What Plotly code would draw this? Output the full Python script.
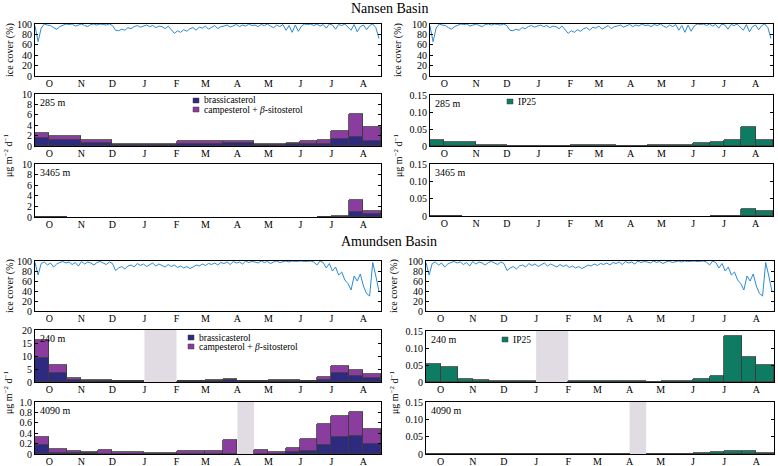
import plotly.graph_objects as go
import pandas as pd

W, H = 778, 466
T0 = pd.Timestamp('2017-10-01')
FONT = 'Liberation Serif'

# month labels (centred mid-month)
month_ticks = ['2017-10-15', '2017-11-15', '2017-12-15', '2018-01-15', '2018-02-15', '2018-03-15',
               '2018-04-15', '2018-05-15', '2018-06-15', '2018-07-15', '2018-08-15']
month_labels = ['O', 'N', 'D', 'J', 'F', 'M', 'A', 'M', 'J', 'J', 'A']

# sea ice cover (%), every 3 days from 1 Oct 2017
ice_dates = pd.date_range('2017-10-01', periods=112, freq='3D')
ice_nansen = [96, 66, 92, 100, 98, 97, 93, 90, 95, 98, 100,
              99, 100, 96, 98, 100, 97, 95, 99, 100, 98,
              100, 99, 98, 100, 97, 88, 87, 90, 88, 93,
              91, 95, 97, 94, 96, 98, 95, 97, 93, 96,
              95, 91, 96, 90, 82, 87, 84, 89, 86, 91,
              93, 88, 94, 92, 96, 90, 94, 97, 91, 95,
              96, 98, 94, 97, 99, 95, 98, 96, 100, 97,
              98, 95, 99, 97, 100, 96, 93, 98, 95, 99,
              88, 97, 84, 98, 86, 96, 100, 99, 100, 97,
              100, 96, 99, 92, 100, 98, 90, 99, 97, 100,
              94, 88, 99, 85, 95, 98, 89, 97, 100, 93, 72]
ice_amundsen = [97, 72, 95, 98, 92, 96, 88, 94, 97, 99, 96,
                98, 93, 97, 90, 99, 94, 98, 96, 92, 97,
                99, 96, 93, 98, 95, 81, 86, 89, 84, 90,
                92, 88, 95, 91, 94, 89, 93, 96, 90, 94,
                91, 88, 93, 89, 92, 87, 90, 86, 89, 85,
                88, 92, 90, 94, 91, 95, 93, 96, 92, 97,
                95, 98, 93, 99, 96, 98, 94, 100, 97, 99,
                98, 96, 100, 97, 99, 95, 98, 100, 97, 99,
                100, 98, 100, 99, 100, 100, 99, 100, 100, 98,
                92, 100, 97, 86, 95, 80, 88, 72, 78, 62,
                55, 42, 70, 60, 74, 50, 35, 30, 97, 70, 40]

# Nansen Basin, 285 m trap
n285_start = ['2017-10-01', '2017-10-15', '2017-11-15', '2017-12-15', '2018-02-15', '2018-04-01', '2018-05-01',
              '2018-06-01', '2018-06-15', '2018-07-01', '2018-07-15', '2018-08-01', '2018-08-15']
n285_end = ['2017-10-15', '2017-11-15', '2017-12-15', '2018-02-15', '2018-04-01', '2018-05-01', '2018-06-01',
            '2018-06-15', '2018-07-01', '2018-07-15', '2018-08-01', '2018-08-15', '2018-09-01']
n285_brassicasterol = [1.5, 1.2, 0.5, 0.2, 0.3, 0.6, 0.2, 0.3, 0.4, 0.4, 1.3, 1.7, 1.0]
n285_campesterol = [1.0, 0.7, 0.7, 0.2, 0.7, 0.4, 0.1, 0.3, 0.5, 0.7, 1.5, 4.5, 2.6]
n285_ip25 = [0.017, 0.011, 0.002, 0.0005, 0.003, 0.001, 0.003, 0.003, 0.008, 0.012, 0.017, 0.057, 0.018]

# Nansen Basin, 3465 m trap
n3465_start = ['2017-10-01', '2017-10-15', '2018-07-01', '2018-07-15', '2018-08-01', '2018-08-15']
n3465_end = ['2017-10-15', '2017-11-01', '2018-07-15', '2018-08-01', '2018-08-15', '2018-09-01']
n3465_brassicasterol = [0.05, 0.03, 0.04, 0.05, 1.0, 0.5]
n3465_campesterol = [0.03, 0.02, 0.04, 0.05, 2.3, 0.6]
n3465_ip25 = [0.001, 0.0005, 0.0002, 0.0003, 0.019, 0.013]

# Amundsen Basin, 240 m trap
a240_start = ['2017-10-01', '2017-10-15', '2017-11-01', '2017-11-15', '2017-12-01', '2017-12-15', '2018-02-15',
              '2018-03-15', '2018-04-01', '2018-04-15', '2018-05-01', '2018-05-15', '2018-06-01', '2018-06-15',
              '2018-07-01', '2018-07-15', '2018-08-01', '2018-08-15']
a240_end = ['2017-10-15', '2017-11-01', '2017-11-15', '2017-12-01', '2017-12-15', '2018-01-15', '2018-03-15',
            '2018-04-01', '2018-04-15', '2018-05-01', '2018-05-15', '2018-06-01', '2018-06-15', '2018-07-01',
            '2018-07-15', '2018-08-01', '2018-08-15', '2018-09-01']
a240_brassicasterol = [9.3, 3.5, 0.9, 0.5, 0.4, 0.3, 0.3, 0.5, 0.7, 0.3, 0.4, 0.4, 0.3, 0.2, 0.6, 3.6, 2.4, 1.5]
a240_campesterol = [6.8, 3.0, 0.8, 0.4, 0.4, 0.1, 0.1, 0.1, 0.3, 0.1, 0.1, 0.2, 0.5, 0.1, 1.3, 2.7, 2.4, 1.7]
a240_ip25 = [0.053, 0.043, 0.0097, 0.006, 0.003, 0.003, 0.003, 0.003, 0.003, 0.002, 0.001, 0.003, 0.003,
             0.009, 0.017, 0.136, 0.074, 0.050]
a240_gap = ['2018-01-15', '2018-02-15']

# Amundsen Basin, 4090 m trap
a4090_start = ['2017-10-01', '2017-10-15', '2017-11-01', '2017-11-15', '2017-12-01', '2017-12-15', '2018-01-15',
               '2018-02-15', '2018-03-15', '2018-04-01', '2018-05-01', '2018-05-15', '2018-06-01', '2018-06-15',
               '2018-07-01', '2018-07-15', '2018-08-01', '2018-08-15']
a4090_end = ['2017-10-15', '2017-11-01', '2017-11-15', '2017-12-01', '2017-12-15', '2018-01-15', '2018-02-15',
             '2018-03-15', '2018-04-01', '2018-04-15', '2018-05-15', '2018-06-01', '2018-06-15', '2018-07-01',
             '2018-07-15', '2018-08-01', '2018-08-15', '2018-09-01']
a4090_brassicasterol = [0.165, 0.02, 0.02, 0.01, 0.005, 0.005, 0.005, 0.005, 0.005, 0.005, 0.005, 0.005,
                        0.04, 0.065, 0.18, 0.335, 0.355, 0.19]
a4090_campesterol = [0.155, 0.075, 0.03, 0.03, 0.07, 0.025, 0.02, 0.045, 0.045, 0.265, 0.075, 0.025,
                     0.075, 0.22, 0.39, 0.395, 0.445, 0.30]
a4090_ip25 = [0.001, 0.0003, 0, 0, 0, 0, 0, 0, 0, 0, 0, 0, 0.0005, 0.002, 0.006, 0.008, 0.0085, 0.003]
a4090_gap = ['2018-04-15', '2018-05-01']

C_BRAS = '#2d2a80'
C_CAMP = '#8a3c9f'
C_IP25 = '#0e7c62'
C_ICE = '#2b8ad6'
C_GAP = '#e1dbe3'
C_EDGE = '#3c3c3c'


def day(d):
    return (pd.Timestamp(d) - T0).days


def xpos(start, end):
    s = [day(a) for a in start]
    e = [day(b) for b in end]
    return [(a + b) / 2 for a, b in zip(s, e)], [b - a for a, b in zip(s, e)]


fig = go.Figure()

# panel geometry in pixels: (x0, x1, y0, y1)
panels = [
    (35, 381, 24, 76), (35, 381, 94, 146), (35, 381, 164, 217),
    (430, 773, 24, 76), (430, 773, 95, 146), (430, 773, 164, 216),
    (35, 381, 261, 311), (35, 381, 330, 382), (35, 381, 402, 454),
    (426, 774, 261, 311), (426, 774, 331, 382), (426, 774, 402, 454),
]

tickfont = dict(family=FONT, size=10, color='black')
layout = {}
for i, (x0, x1, y0, y1) in enumerate(panels):
    n = '' if i == 0 else str(i + 1)
    layout['xaxis' + n] = dict(
        domain=[x0 / W, x1 / W], anchor='y' + n, range=[0, 335],
        tickvals=[day(t) for t in month_ticks], ticktext=month_labels,
        ticks='', ticklabelstandoff=-2, showline=True, mirror=True, linecolor='black', linewidth=1,
        showgrid=False, zeroline=False, tickfont=tickfont, fixedrange=True, automargin=False)
    layout['yaxis' + n] = dict(
        domain=[1 - y1 / H, 1 - y0 / H], anchor='x' + n,
        ticks='inside', ticklen=3, tickcolor='black',
        showline=True, mirror='ticks', linecolor='black', linewidth=1,
        showgrid=False, zeroline=False, tickfont=tickfont, fixedrange=True, automargin=False)


def ax(i):
    return ('x', 'y') if i == 0 else ('x' + str(i + 1), 'y' + str(i + 1))


def ice_panel(i, values):
    xa, ya = ax(i)
    fig.add_trace(go.Scatter(x=[(d - T0).days for d in ice_dates], y=values, mode='lines',
                             line=dict(color=C_ICE, width=1), showlegend=False, xaxis=xa, yaxis=ya))
    key = 'yaxis' + ('' if i == 0 else str(i + 1))
    layout[key].update(range=[0, 100], tickvals=[0, 20, 40, 60, 80, 100])


def sterol_panel(i, start, end, bras, camp):
    xa, ya = ax(i)
    xs, ws = xpos(start, end)
    fig.add_trace(go.Bar(x=xs, y=bras, width=ws, name='brassicasterol', marker_color=C_BRAS,
                         marker_line=dict(color=C_EDGE, width=0.8), showlegend=False,
                         xaxis=xa, yaxis=ya))
    fig.add_trace(go.Bar(x=xs, y=camp, width=ws, name='campesterol + β-sitosterol', marker_color=C_CAMP,
                         marker_line=dict(color=C_EDGE, width=0.8), showlegend=False,
                         xaxis=xa, yaxis=ya))


def ip25_panel(i, start, end, vals):
    xa, ya = ax(i)
    xs, ws = xpos(start, end)
    fig.add_trace(go.Bar(x=xs, y=vals, width=ws, name='IP25', marker_color=C_IP25,
                         marker_line=dict(color=C_EDGE, width=0.8), showlegend=False,
                         xaxis=xa, yaxis=ya))


def gap(i, span):
    xa, ya = ax(i)
    fig.add_shape(type='rect', xref=xa, yref=ya + ' domain', x0=day(span[0]), x1=day(span[1]),
                  y0=0, y1=1, fillcolor=C_GAP, line_width=0, layer='below')


def set_y(i, rng, vals, text=None):
    key = 'yaxis' + ('' if i == 0 else str(i + 1))
    layout[key].update(range=rng, tickvals=vals)
    if text:
        layout[key].update(ticktext=text)


ice_panel(0, ice_nansen)
ice_panel(3, ice_nansen)
ice_panel(6, ice_amundsen)
ice_panel(9, ice_amundsen)

sterol_panel(1, n285_start, n285_end, n285_brassicasterol, n285_campesterol)
sterol_panel(2, n3465_start, n3465_end, n3465_brassicasterol, n3465_campesterol)
ip25_panel(4, n285_start, n285_end, n285_ip25)
ip25_panel(5, n3465_start, n3465_end, n3465_ip25)
sterol_panel(7, a240_start, a240_end, a240_brassicasterol, a240_campesterol)
sterol_panel(8, a4090_start, a4090_end, a4090_brassicasterol, a4090_campesterol)
ip25_panel(10, a240_start, a240_end, a240_ip25)
ip25_panel(11, a4090_start, a4090_end, a4090_ip25)

gap(7, a240_gap)
gap(10, a240_gap)
gap(8, a4090_gap)
gap(11, a4090_gap)

set_y(1, [0, 10], [0, 2, 4, 6, 8, 10])
set_y(2, [0, 10], [0, 2, 4, 6, 8, 10])
ip_ticks = [0, 0.05, 0.10, 0.15]
ip_text = ['0', '0.05', '0.10', '0.15']
for i in (4, 5, 10, 11):
    set_y(i, [0, 0.15], ip_ticks, ip_text)
set_y(7, [0, 20], [0, 5, 10, 15, 20])
set_y(8, [0, 1.0], [0, 0.2, 0.4, 0.6, 0.8, 1.0], ['0', '0.2', '0.4', '0.6', '0.8', '1.0'])

txt = dict(family=FONT, size=10, color='black')

# depth labels
depths = [(1, '285 m'), (2, '3465 m'), (4, '285 m'), (5, '3465 m'),
          (7, '240 m'), (8, '4090 m'), (10, '240 m'), (11, '4090 m')]
annotations = []
for i, t in depths:
    xa, ya = ax(i)
    annotations.append(dict(text=t, xref=xa + ' domain', yref=ya + ' domain', x=0.008, y=0.98,
                            xanchor='left', yanchor='top', showarrow=False, font=txt))

# basin titles
for t, y in [('Nansen Basin', 8), ('Amundsen Basin', 242)]:
    annotations.append(dict(text=t, xref='paper', yref='paper', x=0.5, y=1 - y / H,
                            xanchor='center', yanchor='middle', showarrow=False,
                            font=dict(family=FONT, size=14, color='black')))

# y-axis titles
unit = 'μg m<sup>−2</sup> d<sup>−1</sup>'
for x, y, t in [(10, 50, 'ice cover (%)'), (398, 50, 'ice cover (%)'),
                (10, 286, 'ice cover (%)'), (394, 286, 'ice cover (%)'),
                (8, 155, unit), (398, 155, unit), (8, 392, unit), (394, 392, unit)]:
    annotations.append(dict(text=t, xref='paper', yref='paper', x=x / W, y=1 - y / H,
                            xanchor='center', yanchor='middle', textangle=-90, showarrow=False,
                            font=txt))

# hand-drawn legends: (left px, top px of first swatch, entries)
legends = [
    (193, 98, [(C_BRAS, 'brassicasterol'), (C_CAMP, 'campesterol + <i>β</i>-sitosterol')]),
    (507, 99, [(C_IP25, 'IP25')]),
    (188, 335, [(C_BRAS, 'brassicasterol'), (C_CAMP, 'campesterol + <i>β</i>-sitosterol')]),
    (502, 337, [(C_IP25, 'IP25')]),
]
shapes = []
for lx, ly, entries in legends:
    for k, (c, label) in enumerate(entries):
        top = ly + k * 9
        shapes.append(dict(type='rect', xref='paper', yref='paper', x0=lx / W, x1=(lx + 6) / W,
                           y0=1 - (top + 5) / H, y1=1 - top / H, fillcolor=c,
                           line=dict(color=C_EDGE, width=0.5)))
        annotations.append(dict(text=label, xref='paper', yref='paper', x=(lx + 9) / W,
                                y=1 - (top + 2.5) / H, xanchor='left', yanchor='middle',
                                showarrow=False, font=dict(family=FONT, size=9.5, color='black')))

fig.update_layout(
    template='none',
    width=W, height=H, autosize=False,
    margin=dict(l=0, r=0, t=0, b=0, autoexpand=False),
    paper_bgcolor='white', plot_bgcolor='white',
    barmode='stack', bargap=0,
    showlegend=False,
    font=txt,
    annotations=annotations,
    shapes=list(fig.layout.shapes) + shapes,
    **layout,
)

# page has a default 8px body margin; remove it so the figure sits at the window origin
fig.write_html('out.html', config={'displayModeBar': False},
               post_script="document.body.style.margin='0';document.body.style.overflow='hidden';")
